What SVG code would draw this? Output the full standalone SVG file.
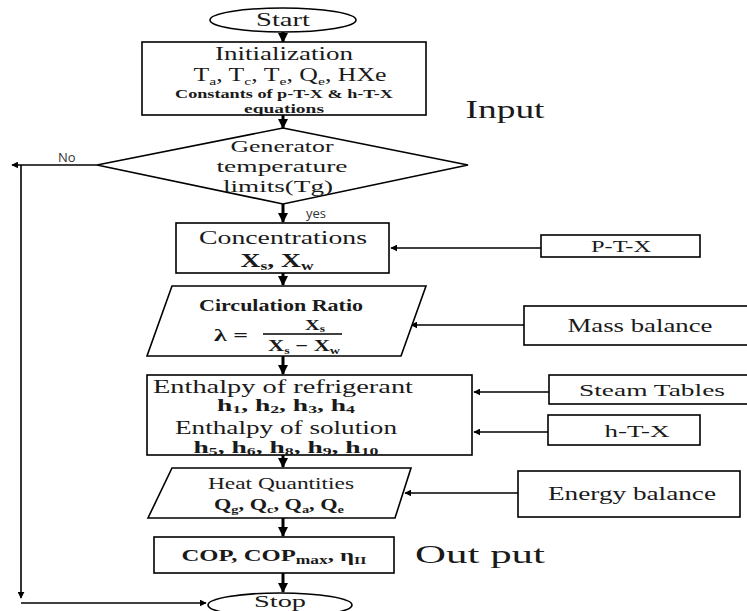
<svg xmlns="http://www.w3.org/2000/svg" width="747" height="611" viewBox="0 0 747 611">
<defs>
<marker id="ah" viewBox="0 0 10 10" refX="9" refY="5" markerWidth="7" markerHeight="7" markerUnits="userSpaceOnUse" orient="auto"><path d="M0,0 L10,5 L0,10 z" fill="#000"/></marker>
<marker id="ahb" viewBox="0 0 10 10" refX="9" refY="5" markerWidth="10" markerHeight="10" markerUnits="userSpaceOnUse" orient="auto"><path d="M0,0 L10,5 L0,10 z" fill="#000"/></marker>
<style>
.s{fill:#fff;stroke:#000;stroke-width:1.6}
.t{font-family:"Liberation Serif","Times New Roman",serif;fill:#1a1a1a;text-anchor:middle}
.b{font-weight:bold}
.c{stroke:#000;stroke-width:1.6;fill:none;marker-end:url(#ah)}
.v{stroke:#000;stroke-width:3;fill:none;marker-end:url(#ahb)}
.sans{font-family:"Open Sans","Liberation Sans",sans-serif;fill:#333}
</style>
</defs>
<rect width="747" height="611" fill="#fff"/>
<g id="connectors">
<path class="v" d="M283,32 V42"/>
<path class="v" d="M283,115 V128"/>
<path class="v" d="M283,204 V222"/>
<path class="v" d="M283,273 V285"/>
<path class="v" d="M283,356 V374"/>
<path class="v" d="M283,455 V467"/>
<path class="v" d="M283,518 V536"/>
<path class="v" d="M283,573 V592"/>
<path class="c" d="M97,165 H12"/>
<path class="c" d="M21,165 V598"/>
<path class="c" d="M21,603 H206"/>
<path class="c" d="M541,248 H391"/>
<path class="c" d="M524,325 H411"/>
<path class="c" d="M549,392 H474"/>
<path class="c" d="M548,432 H474"/>
<path class="c" d="M518,493 H405"/>
</g>
<g id="start"><ellipse class="s" cx="283" cy="20" rx="73" ry="12"/><text class="t" x="283" y="26" font-size="18" textLength="54" lengthAdjust="spacingAndGlyphs">Start</text></g>
<g id="init"><rect class="s" x="142" y="42" width="284" height="73"/>
<text class="t" x="284" y="60" font-size="18" textLength="138" lengthAdjust="spacingAndGlyphs">Initialization</text>
<text class="t" x="290" y="81" font-size="18" textLength="193" lengthAdjust="spacingAndGlyphs">T<tspan font-size="11" dy="4">a</tspan><tspan dy="-4">, T</tspan><tspan font-size="11" dy="4">c</tspan><tspan dy="-4">, T</tspan><tspan font-size="11" dy="4">e</tspan><tspan dy="-4">, Q</tspan><tspan font-size="11" dy="4">e</tspan><tspan dy="-4">, HXe</tspan></text>
<text class="t b" x="284" y="98" font-size="12" textLength="218" lengthAdjust="spacingAndGlyphs">Constants of p-T-X &amp; h-T-X</text>
<text class="t b" x="284" y="113" font-size="12" textLength="80" lengthAdjust="spacingAndGlyphs">equations</text></g>
<g id="input-label"><text class="t" x="505" y="118" font-size="26" textLength="79" lengthAdjust="spacingAndGlyphs">Input</text></g>
<g id="decision"><polygon class="s" points="283,128 468,165 283,204 97,165"/>
<text class="t" x="282" y="152" font-size="17" textLength="103" lengthAdjust="spacingAndGlyphs">Generator</text>
<text class="t" x="282" y="172" font-size="17" textLength="131" lengthAdjust="spacingAndGlyphs">temperature</text>
<text class="t" x="278" y="192" font-size="17" textLength="110" lengthAdjust="spacingAndGlyphs">limits(Tg)</text></g>
<text class="sans" x="58" y="162" font-size="13">No</text>
<text class="sans" x="306" y="218" font-size="13">yes</text>
<g id="conc"><rect class="s" x="176" y="223" width="213" height="50"/>
<text class="t" x="283" y="244" font-size="18" textLength="168" lengthAdjust="spacingAndGlyphs">Concentrations</text>
<text class="t b" x="277" y="267" font-size="19" textLength="73" lengthAdjust="spacingAndGlyphs">X<tspan font-size="12" dy="3">s</tspan><tspan dy="-3">, X</tspan><tspan font-size="12" dy="3">w</tspan></text></g>
<g id="ptx"><rect class="s" x="541" y="235" width="159" height="22"/><text class="t" x="621" y="252" font-size="16" textLength="60" lengthAdjust="spacingAndGlyphs">P-T-X</text></g>
<g id="circ"><polygon class="s" points="172,286 426,286 401,356 147,356"/>
<text class="t b" x="281" y="311" font-size="16" textLength="164" lengthAdjust="spacingAndGlyphs">Circulation Ratio</text>
<text class="t b" x="231" y="341" font-size="16" textLength="34" lengthAdjust="spacingAndGlyphs">λ =</text>
<text class="t b" x="315" y="330" font-size="15" textLength="20" lengthAdjust="spacingAndGlyphs">X<tspan font-size="10" dy="2">s</tspan></text>
<line x1="263" y1="334" x2="342" y2="334" stroke="#000" stroke-width="1.4"/>
<text class="t b" x="304" y="351" font-size="16" textLength="72" lengthAdjust="spacingAndGlyphs">X<tspan font-size="10" dy="3">s</tspan><tspan dy="-3"> −  X</tspan><tspan font-size="10" dy="3">w</tspan></text></g>
<g id="mass"><rect class="s" x="524" y="306" width="230" height="39"/><text class="t" x="640" y="332" font-size="18" textLength="145" lengthAdjust="spacingAndGlyphs">Mass balance</text></g>
<g id="enth"><rect class="s" x="147" y="375" width="325" height="80"/>
<text class="t" x="283" y="393" font-size="18" textLength="260" lengthAdjust="spacingAndGlyphs">Enthalpy of refrigerant</text>
<text class="t b" x="286" y="411" font-size="17" textLength="138" lengthAdjust="spacingAndGlyphs">h<tspan font-size="11" dy="2">1</tspan><tspan dy="-2">, h</tspan><tspan font-size="11" dy="2">2</tspan><tspan dy="-2">, h</tspan><tspan font-size="11" dy="2">3</tspan><tspan dy="-2">, h</tspan><tspan font-size="11" dy="2">4</tspan></text>
<text class="t" x="286" y="434" font-size="18" textLength="222" lengthAdjust="spacingAndGlyphs">Enthalpy of solution</text>
<text class="t b" x="286" y="453" font-size="17" textLength="185" lengthAdjust="spacingAndGlyphs">h<tspan font-size="11" dy="2">5</tspan><tspan dy="-2">, h</tspan><tspan font-size="11" dy="2">6</tspan><tspan dy="-2">, h</tspan><tspan font-size="11" dy="2">8</tspan><tspan dy="-2">, h</tspan><tspan font-size="11" dy="2">9</tspan><tspan dy="-2">, h</tspan><tspan font-size="11" dy="2">10</tspan></text></g>
<g id="steam"><rect class="s" x="549" y="375" width="205" height="29"/><text class="t" x="652" y="396" font-size="17" textLength="146" lengthAdjust="spacingAndGlyphs">Steam Tables</text></g>
<g id="htx"><rect class="s" x="548" y="415" width="152" height="30"/><text class="t" x="637" y="437" font-size="17" textLength="65" lengthAdjust="spacingAndGlyphs">h-T-X</text></g>
<g id="heat"><polygon class="s" points="172,468 411,468 395,518 148,518"/>
<text class="t" x="281" y="489" font-size="17" textLength="146" lengthAdjust="spacingAndGlyphs">Heat Quantities</text>
<text class="t b" x="279" y="510" font-size="17" textLength="130" lengthAdjust="spacingAndGlyphs">Q<tspan font-size="11" dy="3">g</tspan><tspan dy="-3">, Q</tspan><tspan font-size="11" dy="3">c</tspan><tspan dy="-3">, Q</tspan><tspan font-size="11" dy="3">a</tspan><tspan dy="-3">, Q</tspan><tspan font-size="11" dy="3">e</tspan></text></g>
<g id="energy"><rect class="s" x="518" y="471" width="222" height="46"/><text class="t" x="632" y="500" font-size="18" textLength="168" lengthAdjust="spacingAndGlyphs">Energy balance</text></g>
<g id="cop"><rect class="s" x="154" y="537" width="240" height="36"/>
<text class="t b" x="274" y="561" font-size="17" textLength="185" lengthAdjust="spacingAndGlyphs">COP,  COP<tspan font-size="12" dy="3">max</tspan><tspan dy="-3">, η</tspan><tspan font-size="11" dy="3">II</tspan></text></g>
<g id="output-label"><text class="t" x="480" y="563" font-size="26" textLength="130" lengthAdjust="spacingAndGlyphs">Out put</text></g>
<g id="stop"><ellipse class="s" cx="280" cy="605" rx="72" ry="12"/><text class="t" x="280" y="607" font-size="16" textLength="52" lengthAdjust="spacingAndGlyphs">Stop</text></g>
</svg>
